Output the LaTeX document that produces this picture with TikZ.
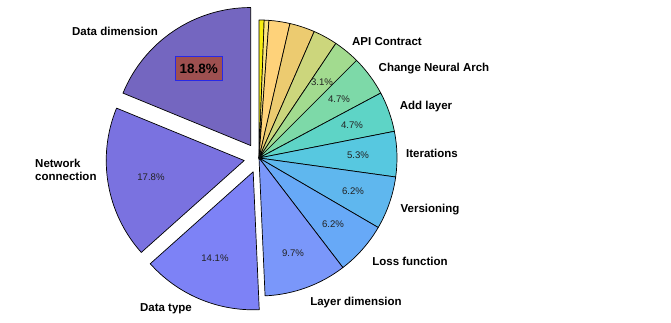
\documentclass[tikz,border=0pt]{standalone}
\usepackage{fontspec}
\setmainfont{Liberation Sans}
\usetikzlibrary{calc}
\definecolor{sa}{HTML}{F6EE10}
\definecolor{sb}{HTML}{FCE680}
\definecolor{sc}{HTML}{FED27A}
\definecolor{sd}{HTML}{ECCB70}
\definecolor{se}{HTML}{CCD67C}
\definecolor{sf}{HTML}{A2DB8F}
\definecolor{sg}{HTML}{7DD9A8}
\definecolor{sh}{HTML}{5ED4C6}
\definecolor{si}{HTML}{57C8E0}
\definecolor{sj}{HTML}{5FB7EE}
\definecolor{sk}{HTML}{67A9F7}
\definecolor{sl}{HTML}{7A97FA}
\definecolor{sm}{HTML}{7D82F6}
\definecolor{sn}{HTML}{7A72E0}
\definecolor{so}{HTML}{7466C0}
\definecolor{boxfill}{HTML}{9E5050}
\definecolor{boxline}{HTML}{2828E8}
\definecolor{pct}{HTML}{222222}
\newcommand\myslice[4]{%
  \filldraw[fill=#3, draw=black, line width=0.7pt, line join=round]
    ($(c)+({90-180*(#1+#2)}:#4)$) -- ++({90-360*#1}:\R)
    arc[start angle={90-360*#1}, end angle={90-360*#2}, radius=\R] -- cycle;}
\begin{document}
\begin{tikzpicture}[x=1pt,y=1pt,
  catlabel/.style={font=\fontsize{11.5}{13.5}\selectfont\bfseries, text=black, inner sep=0pt},
  pctlabel/.style={font=\fontsize{9.6}{11}\selectfont, text=pct, inner sep=0pt},
  bigpct/.style={font=\fontsize{13.5}{15}\selectfont\bfseries, text=black, fill=boxfill,
    draw=boxline, line width=1pt, minimum width=47pt, minimum height=24pt, inner sep=0pt}]
\useasboundingbox (0,0) rectangle (671,323);
\def\R{138}
\coordinate (c) at (259,165);
% slices, clockwise from 12 o'clock
\myslice{0}{0.006}{sa}{0}
\myslice{0.006}{0.0115}{sb}{0}
\myslice{0.0115}{0.036}{sc}{0}
\myslice{0.036}{0.0655}{sd}{0}
\myslice{0.0655}{0.094}{se}{0}
\myslice{0.094}{0.125}{sf}{0}
\myslice{0.125}{0.172}{sg}{0}
\myslice{0.172}{0.219}{sh}{0}
\myslice{0.219}{0.272}{si}{0}
\myslice{0.272}{0.334}{sj}{0}
\myslice{0.334}{0.396}{sk}{0}
\myslice{0.396}{0.493}{sl}{0}
\myslice{0.493}{0.634}{sm}{15}
\myslice{0.634}{0.812}{sn}{15}
\myslice{0.812}{1.0}{so}{15}
% category labels
\node[catlabel] (ldd) at (115,292) {Data dimension};
\node[catlabel, anchor=west, align=left] (lnc) at (35,153) {Network\\connection};
\node[catlabel] (ldt) at (166,14) {Data type};
\node[catlabel] (lld) at (356,20) {Layer dimension};
\node[catlabel] (llf) at (410,62) {Loss function};
\node[catlabel] (lve) at (430,113) {Versioning};
\node[catlabel] (lit) at (432,170) {Iterations};
\node[catlabel] (lal) at (426,216) {Add layer};
\node[catlabel] (lcn) at (434,254) {Change Neural Arch};
\node[catlabel] (lap) at (387,281) {API Contract};
% percentage labels
\node[bigpct] (pdd) at (198.7,254.2) {18.8\%};
\node[pctlabel] (pnc) at (151,146) {17.8\%};
\node[pctlabel] (pdt) at (215,65) {14.1\%};
\node[pctlabel] (pld) at (293,70) {9.7\%};
\node[pctlabel] (plf) at (333,99) {6.2\%};
\node[pctlabel] (pve) at (353,132) {6.2\%};
\node[pctlabel] (pit) at (358,168) {5.3\%};
\node[pctlabel] (pal) at (352,198) {4.7\%};
\node[pctlabel] (pcn) at (339,224) {4.7\%};
\node[pctlabel] (pap) at (322,241) {3.1\%};
\end{tikzpicture}
\end{document}
